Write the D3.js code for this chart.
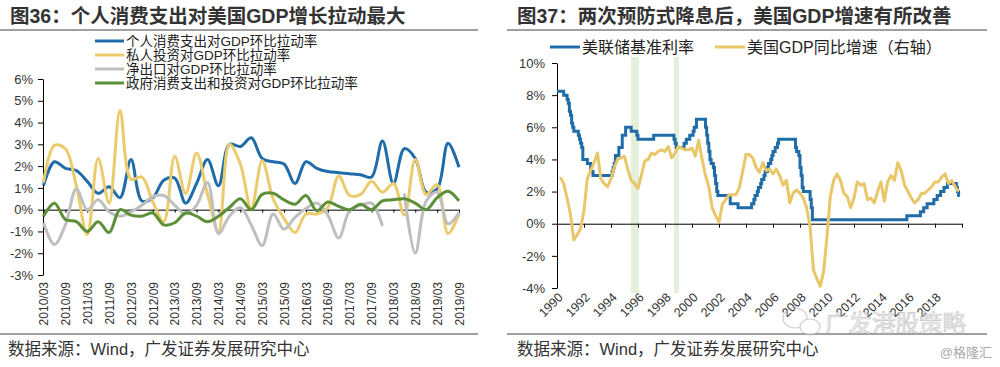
<!DOCTYPE html>
<html><head><meta charset="utf-8">
<script src="https://cdn.jsdelivr.net/npm/d3@7"></script>
<style>
body{margin:0;background:#fff;}
svg{display:block;}
text{font-family:"Liberation Sans","Noto Sans CJK SC",sans-serif;}
</style></head><body>
<svg id="c" width="1000" height="367"></svg>
<script>
// ---------- DATA: left chart (quarterly contributions, %) ----------
const quarters = ["2010/03","2010/06","2010/09","2010/12","2011/03","2011/06","2011/09","2011/12",
"2012/03","2012/06","2012/09","2012/12","2013/03","2013/06","2013/09","2013/12",
"2014/03","2014/06","2014/09","2014/12","2015/03","2015/06","2015/09","2015/12",
"2016/03","2016/06","2016/09","2016/12","2017/03","2017/06","2017/09","2017/12",
"2018/03","2018/06","2018/09","2018/12","2019/03","2019/06","2019/09"];
const leftTickLabels = ["2010/03","2010/09","2011/03","2011/09","2012/03","2012/09","2013/03","2013/09",
"2014/03","2014/09","2015/03","2015/09","2016/03","2016/09","2017/03","2017/09","2018/03","2018/09","2019/03","2019/09"];
const leftYTicks = [-3,-2,-1,0,1,2,3,4,5,6];
const consumption = [1.1,2.2,1.9,1.8,1.3,0.75,1.05,0.55,2.3,0.4,0.55,1.35,1.45,0.3,1.2,2.3,1.1,3.0,2.9,3.3,
2.35,2.2,2.1,1.2,2.2,1.9,1.75,1.7,1.65,1.6,1.5,3.15,1.2,2.8,2.35,0.8,0.95,3.05,1.95];
const investment = [1.25,2.95,2.8,1.1,-1.15,2.35,0.3,4.55,1.4,1.5,0.35,-0.55,2.45,0.75,2.6,0.7,-1.0,3.0,2.1,0.05,
2.25,0.5,-0.4,-1.05,-0.2,-0.2,0.1,1.55,0.65,0.7,1.3,0.8,1.2,-0.25,2.3,0.7,1.15,-1.1,-0.2];
const netExport = [-0.6,-1.6,-0.7,0.95,0.0,0.45,-0.1,-0.3,-0.1,0.2,0.6,0.65,0.2,-0.2,0.2,1.25,-1.1,-0.3,0.1,-0.7,
-1.65,-0.2,-0.9,-0.35,0.05,0.3,-0.25,-1.3,-0.05,0.2,0.3,-0.75,null,0.75,-2.0,0.4,0.8,-0.65,-0.15];
const government = [-0.3,0.3,-0.45,-0.55,-1.0,-0.55,-1.05,0.0,-0.25,-0.3,-0.15,-0.7,-0.6,-0.15,-0.3,-0.55,-0.3,0.1,0.5,0.0,
0.7,0.75,0.45,0.25,0.65,-0.05,0.35,0.15,0.0,0.25,0.0,0.4,0.45,0.5,0.3,0.0,0.55,0.85,0.4];
const leftNames = ["个人消费支出对GDP环比拉动率","私人投资对GDP环比拉动率","净出口对GDP环比拉动率","政府消费支出和投资对GDP环比拉动率"];

// ---------- DATA: right chart ----------
const fedDates = ["1990-01","1990-07","1990-10","1990-11","1990-12","1991-01","1991-02","1991-03","1991-04","1991-08",
"1991-09","1991-10","1991-11","1991-12","1992-04","1992-07","1992-09","1994-02","1994-03","1994-04",
"1994-05","1994-08","1994-11","1995-02","1995-07","1995-12","1996-01","1997-03","1998-09","1998-10",
"1998-11","1999-06","1999-08","1999-11","2000-02","2000-03","2000-05","2001-01","2001-02","2001-03",
"2001-04","2001-05","2001-06","2001-08","2001-09","2001-10","2001-11","2001-12","2002-11","2003-06",
"2004-06","2004-08","2004-09","2004-11","2004-12","2005-02","2005-03","2005-05","2005-06","2005-08",
"2005-09","2005-11","2005-12","2006-01","2006-03","2006-05","2006-06","2007-09","2007-10","2007-12",
"2008-01","2008-02","2008-03","2008-04","2008-10","2008-11","2008-12","2015-12","2016-12","2017-03",
"2017-06","2017-12","2018-03","2018-06","2018-09","2018-12","2019-08","2019-09","2019-10","2019-11"];
const fedRates = [8.25,8.0,7.75,7.5,7.0,6.75,6.25,6.0,5.75,5.5,
5.25,5.0,4.75,4.0,3.75,3.25,3.0,3.25,3.5,3.75,
4.25,4.75,5.5,6.0,5.75,5.5,5.25,5.5,5.25,5.0,
4.75,5.0,5.25,5.5,5.75,6.0,6.5,6.0,5.5,5.0,
4.5,4.0,3.75,3.5,3.0,2.5,2.0,1.75,1.25,1.0,
1.25,1.5,1.75,2.0,2.25,2.5,2.75,3.0,3.25,3.5,
3.75,4.0,4.25,4.5,4.75,5.0,5.25,4.75,4.5,4.25,
3.5,3.0,2.25,2.0,1.5,1.0,0.25,0.5,0.75,1.0,
1.25,1.5,1.75,2.0,2.25,2.5,2.25,2.0,1.75,1.75];
const gdpStartYear = 1990;
const gdpYoY = [2.9,2.5,1.6,0.6, -1.0,-0.7,-0.3,0.8, 2.8,3.3,3.8,4.4, 2.8,2.5,2.3,2.8, 3.5,4.0,4.1,4.2,
3.4,2.7,2.5,2.2, 3.0,3.9,4.0,4.4, 4.3,4.5,4.6,4.5, 4.8,4.1,4.4,4.8, 4.7,4.6,4.6,4.7,
4.2,5.2,4.0,3.0, 2.3,1.0,0.5,0.1, 1.2,1.5,1.8,1.8, 1.8,2.2,3.2,4.3, 4.3,4.1,3.5,3.2,
3.8,3.3,3.4,3.1, 3.4,3.0,2.4,2.7, 1.3,1.9,2.1,1.9, 1.6,1.0,-0.2,-2.9, -3.4,-3.9,-3.0,-0.8,
1.7,2.7,3.1,2.7, 1.9,1.7,1.0,1.6, 2.6,2.4,2.5,1.5, 1.6,1.3,2.0,2.6, 1.4,2.6,3.0,2.7,
3.8,3.3,2.4,2.0, 1.6,1.3,1.5,1.9, 1.9,2.1,2.3,2.6, 2.6,2.9,3.1,2.5, 2.7,2.3,2.0];
const bandStarts = ["1995-06-20","1998-09-01"];
const bandEnds = ["1996-01-25","1999-01-15"];
const rightYTicks = [-4,-2,0,2,4,6,8,10];
const rightXLabels = ["1990","1992","1994","1996","1998","2000","2002","2004","2006","2008","2010","2012","2014","2016","2018"];
const rightNames = ["美联储基准利率","美国GDP同比增速（右轴）"];

// ---------- STYLE ----------
const leftColors = ["#1f6ca8","#ebcb6b","#bfbfbf","#5b8f38"];
const fedColor = "#1f6ca8", gdpColor = "#e9c668";
const svg = d3.select("#c");
const parseYM = d3.timeParse("%Y-%m"), parseD = d3.timeParse("%Y-%m-%d");

// ---------- frames / titles ----------
svg.append("text").attr("x",10).attr("y",22.5).attr("font-size",19.5).attr("font-weight","bold").attr("fill","#333")
  .text("图36：个人消费支出对美国GDP增长拉动最大");
svg.append("text").attr("x",517).attr("y",22.5).attr("font-size",19.5).attr("font-weight","bold").attr("fill","#333")
  .text("图37：两次预防式降息后，美国GDP增速有所改善");
[[0,478],[507,987]].forEach(([a,b])=>{
  svg.append("line").attr("x1",a).attr("x2",b).attr("y1",30).attr("y2",30).attr("stroke","#808080").attr("stroke-width",1.5);
  svg.append("line").attr("x1",a).attr("x2",b).attr("y1",334).attr("y2",334).attr("stroke","#808080").attr("stroke-width",1.5);
});
svg.append("text").attr("x",8).attr("y",355).attr("font-size",16.5).attr("fill","#333").text("数据来源：Wind，广发证券发展研究中心");
svg.append("text").attr("x",517).attr("y",355).attr("font-size",16.5).attr("fill","#333").text("数据来源：Wind，广发证券发展研究中心");

// ---------- LEFT CHART ----------
const xL = d3.scalePoint().domain(quarters).range([43.5, 459]);
const yL = d3.scaleLinear().domain([-3,6]).range([275,79]);
const gL = svg.append("g");
const ya = gL.append("g").attr("transform","translate(43,0)")
  .call(d3.axisLeft(yL).tickValues(leftYTicks).tickFormat(d=>d+"%").tickSize(5).tickSizeOuter(0).tickPadding(5));
ya.selectAll("text").attr("font-size",13).attr("fill","#333").style("font-family",'"Liberation Sans",sans-serif');
ya.selectAll("line,path").attr("stroke","#000");
const xa = gL.append("g").attr("transform",`translate(0,${yL(0)})`)
  .call(d3.axisBottom(xL).tickValues(leftTickLabels).tickSize(3).tickSizeOuter(0).tickFormat(""));
xa.selectAll("line,path").attr("stroke","#000");
const xl = gL.append("g").attr("transform","translate(0,278)")
  .call(d3.axisBottom(xL).tickValues(leftTickLabels).tickSize(0));
xl.select(".domain").remove();
xl.selectAll("text").attr("transform","rotate(-90)").attr("x",-4).attr("y",0).attr("dy","0.35em")
  .attr("text-anchor","end").attr("font-size",12).attr("fill","#333").style("font-family",'"Liberation Sans",sans-serif');

const leftSeries = [consumption, investment, netExport, government];
const lineL = d3.line().defined(d=>d.v!==null).x(d=>xL(d.q)).y(d=>yL(d.v)).curve(d3.curveCatmullRom.alpha(0.5));
leftSeries.forEach((s,k)=>{
  gL.append("path").datum(s.map((v,i)=>({q:quarters[i],v})))
    .attr("d",lineL).attr("fill","none").attr("stroke",leftColors[k]).attr("stroke-width",3).attr("stroke-linejoin","round");
});
const legL = gL.append("g");
leftNames.forEach((n,k)=>{
  const y = 41 + k*14;
  legL.append("line").attr("x1",95).attr("x2",124).attr("y1",y).attr("y2",y).attr("stroke",leftColors[k]).attr("stroke-width",3);
  legL.append("text").attr("x",126).attr("y",y+4.8).attr("font-size",13.5).attr("fill","#222").text(n);
});

// ---------- RIGHT CHART ----------
const xR = d3.scaleTime().domain([new Date(1990,0,1), new Date(2020,0,1)]).range([557, 962]);
const yR = d3.scaleLinear().domain([-4,10]).range([288,63]);
const gR = svg.append("g");
bandStarts.forEach((s,i)=>{
  gR.append("rect").attr("x",xR(parseD(s))).attr("width",xR(parseD(bandEnds[i]))-xR(parseD(s)))
    .attr("y",57).attr("height",236).attr("fill","#e4f0d9");
});
const yaR = gR.append("g").attr("transform","translate(557,0)")
  .call(d3.axisLeft(yR).tickValues(rightYTicks).tickFormat(d=>d+"%").tickSize(5).tickSizeOuter(0).tickPadding(7));
yaR.selectAll("text").attr("font-size",13).attr("fill","#333").style("font-family",'"Liberation Sans",sans-serif');
yaR.selectAll("line,path").attr("stroke","#000");
const xaR = gR.append("g").attr("transform",`translate(0,${yR(0)})`)
  .call(d3.axisBottom(xR).ticks(d3.timeYear.every(2)).tickSize(4).tickSizeOuter(0).tickFormat(""));
xaR.selectAll("line,path").attr("stroke","#000");
const xlR = gR.append("g").attr("transform","translate(0,295)")
  .call(d3.axisBottom(xR).tickValues(rightXLabels.map(y=>new Date(+y,0,1))).tickSize(0).tickFormat(d3.timeFormat("%Y")));
xlR.select(".domain").remove();
xlR.selectAll("text").attr("transform","translate(3,0) rotate(-45)").attr("x",0).attr("y",0).attr("dy","0.35em")
  .attr("text-anchor","end").attr("font-size",12.5).attr("fill","#333").style("font-family",'"Liberation Sans",sans-serif');

const fedData = fedDates.map((d,i)=>({t:parseYM(d), v:fedRates[i]}));
gR.append("path").datum(fedData)
  .attr("d", d3.line().x(d=>xR(d.t)).y(d=>yR(d.v)).curve(d3.curveStepAfter))
  .attr("fill","none").attr("stroke",fedColor).attr("stroke-width",3);
const gdpData = gdpYoY.map((v,i)=>({t:new Date(gdpStartYear+Math.floor(i/4), (i%4)*3+3, 0), v}));
gR.append("path").datum(gdpData)
  .attr("d", d3.line().x(d=>xR(d.t)).y(d=>yR(d.v)))
  .attr("fill","none").attr("stroke",gdpColor).attr("stroke-width",3).attr("stroke-linejoin","round");

const legR = gR.append("g");
[[550,fedColor],[715,gdpColor]].forEach(([x,c],k)=>{
  legR.append("line").attr("x1",x).attr("x2",x+30).attr("y1",47).attr("y2",47).attr("stroke",c).attr("stroke-width",3);
  legR.append("text").attr("x",x+32).attr("y",52.5).attr("font-size",16).attr("fill","#222").text(rightNames[k]);
});

// watermark
const wm = svg.append("g").attr("opacity",0.55);
wm.append("ellipse").attr("cx",795).attr("cy",318).attr("rx",12).attr("ry",10).attr("fill","none").attr("stroke","#aaa").attr("stroke-width",1.2);
wm.append("ellipse").attr("cx",810).attr("cy",327).attr("rx",10).attr("ry",8).attr("fill","#fff").attr("stroke","#aaa").attr("stroke-width",1.2);
wm.append("text").attr("x",825).attr("y",332).attr("font-size",23.5).attr("fill","#e8e8e8").attr("stroke","#999").attr("stroke-width",0.7)
  .style("font-family",'"Noto Sans CJK SC",sans-serif').text("广发港股策略");
svg.append("text").attr("x",992).attr("y",357).attr("text-anchor","end").attr("font-size",13).attr("fill","#aaa").text("@格隆汇");
</script>
</body></html>
